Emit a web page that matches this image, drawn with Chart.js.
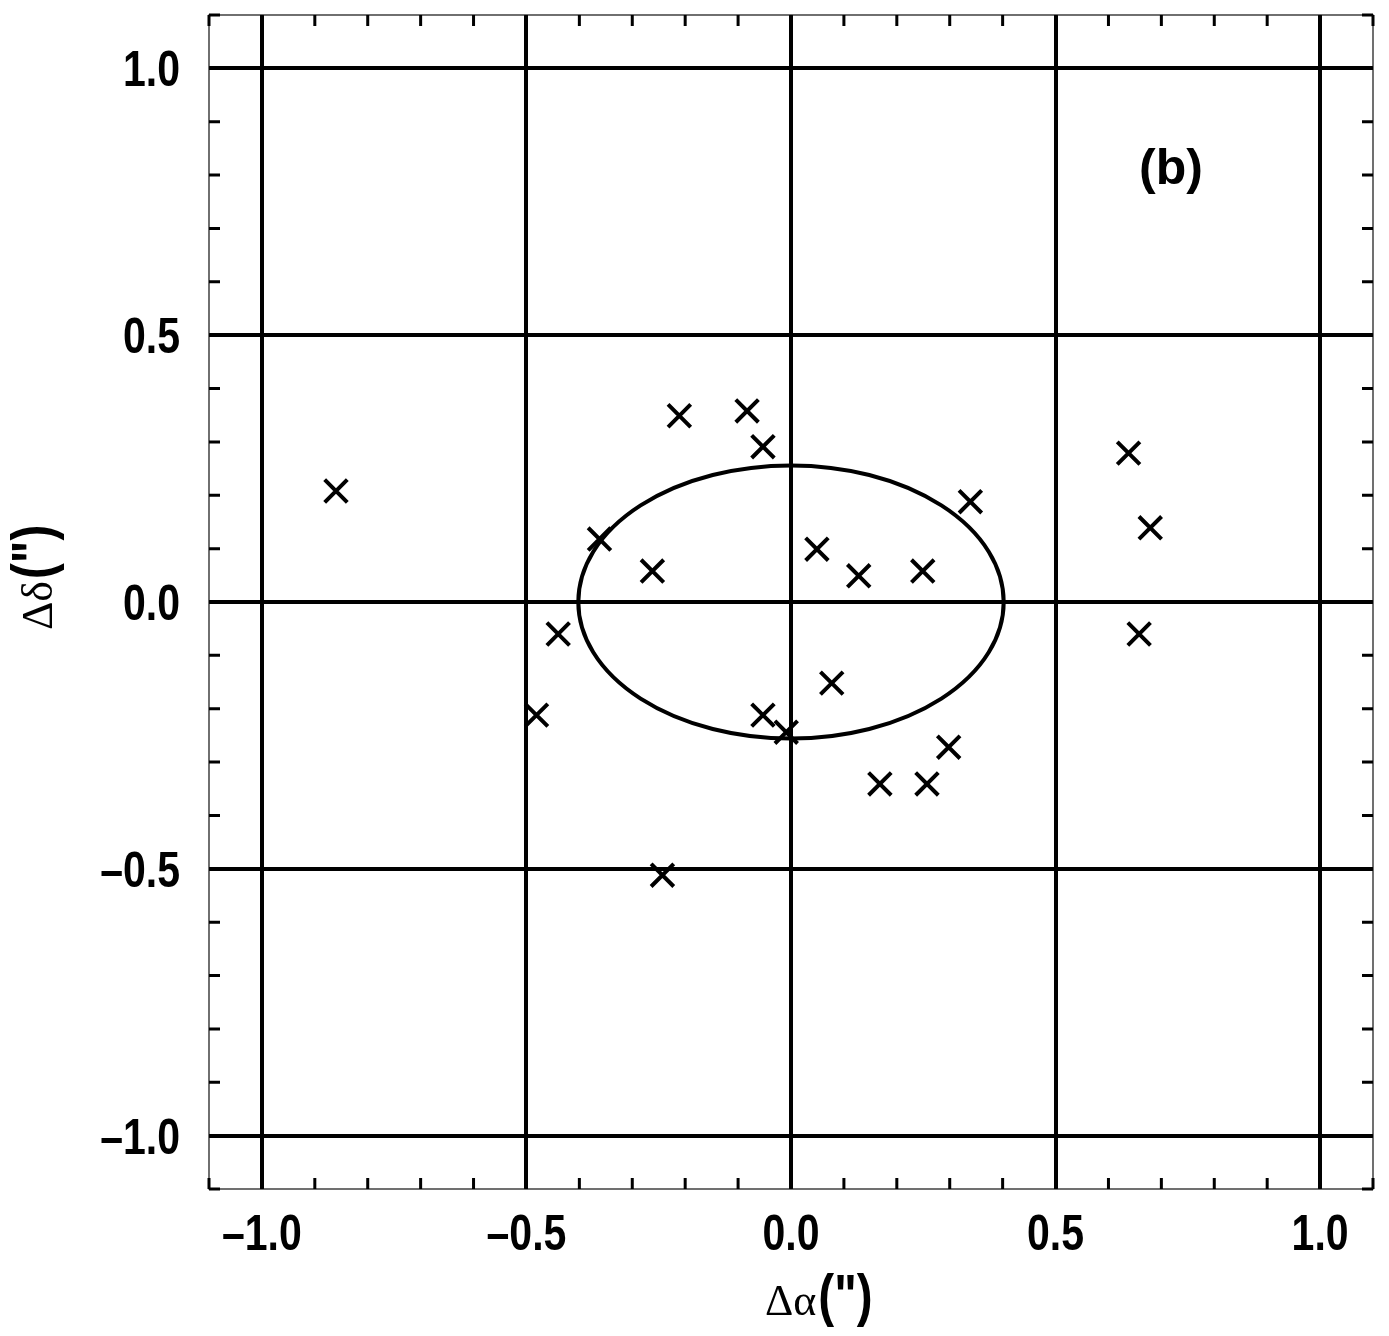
<!DOCTYPE html>
<html>
<head>
<meta charset="utf-8">
<script src="https://cdn.jsdelivr.net/npm/chart.js@4.4.0/dist/chart.umd.min.js"></script>
<style>
  html, body { margin: 0; padding: 0; background: #fff; }
  #wrap { width: 1389px; height: 1336px; }
</style>
</head>
<body>
<div id="wrap"><canvas id="offsetChart" width="1389" height="1336"></canvas></div>
<script>
"use strict";

// ---------- data (arcsec offsets) ----------
const deltaAlpha = [-0.860, -0.211, -0.083, -0.053, -0.362, -0.262, -0.440, -0.481,
  0.049, 0.128, 0.249, 0.339, 0.638, 0.679, 0.658, 0.077, -0.053, -0.009,
  0.298, 0.168, 0.257, -0.243];
const deltaDelta = [0.208, 0.349, 0.358, 0.291, 0.118, 0.058, -0.060, -0.212,
  0.099, 0.049, 0.058, 0.188, 0.279, 0.139, -0.060, -0.152, -0.212, -0.244,
  -0.272, -0.341, -0.341, -0.512];

const majorTicks = [-1.0, -0.5, 0.0, 0.5, 1.0];
const minorTicks = [-1.1, -1.0, -0.9, -0.8, -0.7, -0.6, -0.5, -0.4, -0.3, -0.2, -0.1,
  0.0, 0.1, 0.2, 0.3, 0.4, 0.5, 0.6, 0.7, 0.8, 0.9, 1.0, 1.1];
const axisMin = -1.1;
const axisMax = 1.1;

// error ellipse (centre + semi axes, arcsec)
const ellipseCentre = [0.0, 0.0];
const ellipseSemiX = 0.402;
const ellipseSemiY = 0.256;

const SANS = "'Liberation Sans', Arial, sans-serif";
const SERIF = "'Liberation Serif', 'DejaVu Serif', serif";
const NARROW_K = 0.82; // condensed look of the original labels

function fmtTick(v) {
  // en dash as minus, like the original plot
  return (v < -1e-9 ? "\u2013" : "") + Math.abs(v).toFixed(1);
}

// draw text squeezed horizontally (no narrow font installed)
function narrowText(ctx, text, x, y, align) {
  ctx.save();
  ctx.translate(x, y);
  ctx.scale(NARROW_K, 1);
  ctx.textAlign = align || "left";
  ctx.fillText(text, 0, 0);
  const w = ctx.measureText(text).width * NARROW_K;
  ctx.restore();
  return w;
}

// ---------- extra drawing: frame, minor ticks, ellipse, labels ----------
const framePlugin = {
  id: "framePlugin",
  beforeDatasetsDraw(chart) {
    const { ctx, scales: { x, y } } = chart;
    const cx = x.getPixelForValue(ellipseCentre[0]);
    const cy = y.getPixelForValue(ellipseCentre[1]);
    const rx = Math.abs(x.getPixelForValue(ellipseCentre[0] + ellipseSemiX) - cx);
    const ry = Math.abs(y.getPixelForValue(ellipseCentre[1] + ellipseSemiY) - cy);
    ctx.save();
    ctx.beginPath();
    ctx.ellipse(cx, cy, rx, ry, 0, 0, Math.PI * 2);
    ctx.lineWidth = 4;
    ctx.strokeStyle = "#000";
    ctx.stroke();
    ctx.restore();
  },
  afterDraw(chart) {
    const { ctx, chartArea: a, scales: { x, y } } = chart;
    ctx.save();
    // thin frame
    ctx.strokeStyle = "#111";
    ctx.lineWidth = 1.2;
    ctx.strokeRect(a.left, a.top, a.right - a.left, a.bottom - a.top);

    // minor ticks, pointing inwards on all sides
    const len = 11;
    ctx.lineWidth = 3;
    ctx.strokeStyle = "#000";
    ctx.beginPath();
    minorTicks.forEach((v) => {
      const px = x.getPixelForValue(v);
      ctx.moveTo(px, a.bottom); ctx.lineTo(px, a.bottom - len);
      ctx.moveTo(px, a.top); ctx.lineTo(px, a.top + len);
      const py = y.getPixelForValue(v);
      ctx.moveTo(a.left, py); ctx.lineTo(a.left + len, py);
      ctx.moveTo(a.right, py); ctx.lineTo(a.right - len, py);
    });
    ctx.stroke();

    ctx.fillStyle = "#000";

    // tick labels
    ctx.font = "bold 50px " + SANS;
    ctx.textBaseline = "alphabetic";
    majorTicks.forEach((v) => {
      narrowText(ctx, fmtTick(v), x.getPixelForValue(v), a.bottom + 61, "center");
      narrowText(ctx, fmtTick(v), a.left - 29, y.getPixelForValue(v) + 18, "right");
    });

    // x axis title: Δα(")
    const xs = 765, xb = 1315;
    ctx.font = "44px " + SERIF;
    ctx.textAlign = "left";
    ctx.fillText("\u0394\u03b1", xs, xb);
    const wA = ctx.measureText("\u0394\u03b1").width;
    ctx.font = "bold 58px " + SANS;
    narrowText(ctx, "(\")", xs + wA + 2, xb, "left");

    // y axis title: Δδ(") rotated
    ctx.save();
    ctx.translate(52, 630);
    ctx.rotate(-Math.PI / 2);
    ctx.font = "44px " + SERIF;
    ctx.textAlign = "left";
    ctx.fillText("\u0394\u03b4", 0, 0);
    const wD = ctx.measureText("\u0394\u03b4").width;
    ctx.font = "bold 58px " + SANS;
    narrowText(ctx, "(\")", wD + 2, 0, "left");
    ctx.restore();

    // panel letter
    ctx.font = "bold 50px " + SANS;
    ctx.textAlign = "center";
    ctx.fillText("(b)", 1171, 184);
    ctx.restore();
  },
};

const points = deltaAlpha.map((v, i) => ({ x: v, y: deltaDelta[i] }));

new Chart(document.getElementById("offsetChart"), {
  type: "scatter",
  data: {
    datasets: [
      {
        data: points,
        pointStyle: "crossRot",
        pointRadius: 16,
        pointHoverRadius: 16,
        borderColor: "#000",
        borderWidth: 4,
        backgroundColor: "#000",
      },
    ],
  },
  options: {
    responsive: false,
    animation: false,
    events: [],
    layout: { autoPadding: false, padding: { top: 15, right: 16, left: 0, bottom: 0 } },
    plugins: { legend: { display: false }, tooltip: { enabled: false } },
    scales: {
      x: {
        type: "linear",
        min: axisMin,
        max: axisMax,
        afterBuildTicks(scale) {
          scale.ticks = majorTicks.map((v) => ({ value: v }));
        },
        afterFit(scale) {
          scale.height = 147;
          scale.paddingLeft = 0;
          scale.paddingRight = 0;
        },
        ticks: { display: false },
        grid: { color: "#000", lineWidth: 4, drawTicks: false },
        border: { display: false },
      },
      y: {
        type: "linear",
        min: axisMin,
        max: axisMax,
        afterBuildTicks(scale) {
          scale.ticks = majorTicks.map((v) => ({ value: v }));
        },
        afterFit(scale) {
          scale.width = 209;
          scale.paddingTop = 0;
          scale.paddingBottom = 0;
        },
        ticks: { display: false },
        grid: { color: "#000", lineWidth: 4, drawTicks: false },
        border: { display: false },
      },
    },
  },
  plugins: [framePlugin],
});
</script>
</body>
</html>
